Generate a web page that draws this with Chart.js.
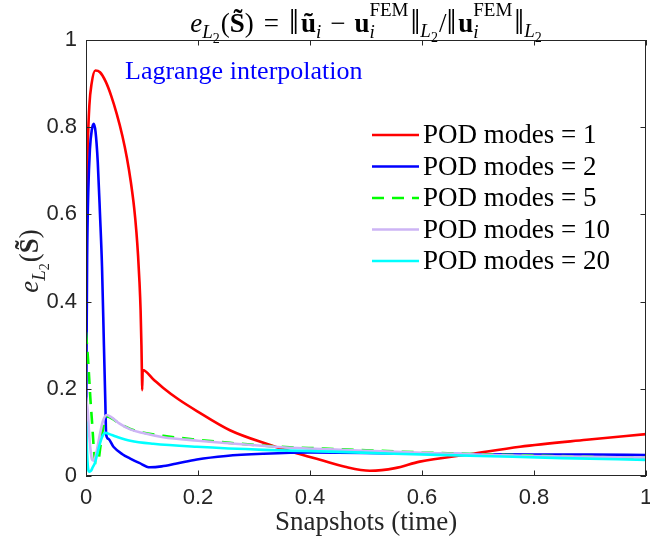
<!DOCTYPE html>
<html>
<head>
<meta charset="utf-8">
<script src="https://cdn.jsdelivr.net/npm/chart.js@4.4.1/dist/chart.umd.min.js"></script>
<style>
  html, body { margin: 0; padding: 0; background: #ffffff; }
  canvas { display: block; }
</style>
</head>
<body>
<canvas id="c" width="650" height="545"></canvas>
<script>
// ---------- data ----------
const seriesLabels = ['POD modes = 1', 'POD modes = 2', 'POD modes = 5', 'POD modes = 10', 'POD modes = 20'];
const xTicks = [0, 0.2, 0.4, 0.6, 0.8, 1];
const yTicks = [0, 0.2, 0.4, 0.6, 0.8, 1];

const xMode1 = [0, 0.001, 0.003, 0.006, 0.010, 0.0166, 0.025, 0.035, 0.045, 0.055, 0.065, 0.073, 0.080, 0.086, 0.090, 0.093, 0.0955, 0.0975, 0.0990, 0.0998, 0.1003, 0.1012, 0.120, 0.138, 0.165, 0.198, 0.257, 0.329, 0.376, 0.418, 0.4625, 0.507, 0.552, 0.596, 0.686, 0.775, 0.894, 1.0];
const yMode1 = [0.30, 0.60, 0.75, 0.85, 0.90, 0.930, 0.926, 0.905, 0.872, 0.830, 0.780, 0.730, 0.675, 0.615, 0.560, 0.505, 0.445, 0.380, 0.300, 0.240, 0.197, 0.243, 0.222, 0.202, 0.176, 0.149, 0.105, 0.071, 0.052, 0.037, 0.021, 0.012, 0.018, 0.033, 0.050, 0.067, 0.083, 0.096];

const xMode2 = [0, 0.001, 0.002, 0.004, 0.007, 0.0105, 0.0137, 0.017, 0.021, 0.025, 0.0286, 0.032, 0.0345, 0.036, 0.040, 0.049, 0.065, 0.079, 0.095, 0.114, 0.135, 0.160, 0.198, 0.250, 0.317, 0.400, 0.500, 0.600, 0.700, 0.800, 0.900, 1.0];
const yMode2 = [0.02, 0.30, 0.50, 0.65, 0.75, 0.795, 0.808, 0.790, 0.720, 0.600, 0.480, 0.300, 0.170, 0.095, 0.085, 0.067, 0.050, 0.040, 0.030, 0.020, 0.022, 0.028, 0.038, 0.046, 0.051, 0.054, 0.053, 0.051, 0.050, 0.049, 0.049, 0.048];

const xMode5 = [0, 0.004, 0.008, 0.011, 0.0137, 0.017, 0.021, 0.026, 0.032, 0.039, 0.045, 0.060, 0.079, 0.100, 0.138, 0.200, 0.257, 0.346, 0.424, 0.500, 0.600, 0.700, 0.800, 0.900, 1.0];
const yMode5 = [0.33, 0.26, 0.174, 0.120, 0.067, 0.030, 0.030, 0.070, 0.120, 0.136, 0.133, 0.120, 0.108, 0.100, 0.092, 0.083, 0.076, 0.067, 0.063, 0.059, 0.054, 0.050, 0.047, 0.044, 0.041];

const xMode10 = [0, 0.003, 0.006, 0.009, 0.011, 0.014, 0.018, 0.024, 0.030, 0.037, 0.045, 0.060, 0.079, 0.100, 0.138, 0.200, 0.257, 0.350, 0.436, 0.500, 0.600, 0.700, 0.800, 0.900, 1.0];
const yMode10 = [0.18, 0.15, 0.09, 0.05, 0.037, 0.035, 0.050, 0.090, 0.125, 0.140, 0.135, 0.120, 0.107, 0.099, 0.089, 0.081, 0.075, 0.066, 0.061, 0.058, 0.053, 0.049, 0.046, 0.044, 0.042];

const xMode20 = [0, 0.002, 0.004, 0.006, 0.009, 0.012, 0.016, 0.020, 0.025, 0.030, 0.035, 0.042, 0.055, 0.079, 0.120, 0.198, 0.317, 0.436, 0.550, 0.704, 0.850, 1.0];
const yMode20 = [0.125, 0.05, 0.015, 0.010, 0.012, 0.020, 0.030, 0.050, 0.075, 0.093, 0.099, 0.096, 0.090, 0.081, 0.074, 0.067, 0.060, 0.056, 0.051, 0.046, 0.041, 0.037];

const seriesColors = ['#ff0000', '#0000ff', '#00ff00', '#cdb4f5', '#00ffff'];
const seriesDash = [[], [], [12, 8], [], []];

const seriesX = [xMode1, xMode2, xMode5, xMode10, xMode20];
const seriesY = [yMode1, yMode2, yMode5, yMode10, yMode20];

const SERIF = '"Liberation Serif", "DejaVu Serif", serif';
const SANS = '"Liberation Sans", Arial, sans-serif';

// ---------- rich text helper (for math-like labels) ----------
function partFont(p) { return (p.style || '') + ' ' + p.size + 'px ' + SERIF; }
function layoutRich(ctx, parts) {
  let x = 0, lastStart = 0, lastEnd = 0;
  const items = [];
  for (const p of parts) {
    ctx.font = partFont(p);
    const w = ctx.measureText(p.t).width;
    const start = p.stack ? lastStart : x + (p.gap || 0);
    items.push({ p, start });
    const end = start + w + (p.after || 0);
    x = p.stack ? Math.max(lastEnd, end) : end;
    lastStart = start; lastEnd = x;
  }
  return { items, width: x };
}
function drawRich(ctx, parts, x0, y0, color) {
  const L = layoutRich(ctx, parts);
  ctx.fillStyle = color;
  ctx.textBaseline = 'alphabetic';
  ctx.textAlign = 'left';
  const left = x0 - L.width / 2;
  for (const it of L.items) {
    ctx.font = partFont(it.p);
    ctx.fillText(it.p.t, left + it.start, y0 + (it.p.dy || 0));
  }
}

function titleParts(B) {
  const s = Math.round(B * 0.7), ss = Math.round(B * 0.52), bar = Math.round(B * 1.3);
  const sub = Math.round(B * 0.22), subsub = Math.round(B * 0.36), sup = -Math.round(B * 0.58);
  const open = { t: '\u2016', size: bar, dy: 2, after: 2 };
  const close = { t: '\u2016', size: bar, dy: 2, gap: 2 };
  const L2 = [{ t: 'L', size: s, style: 'italic', dy: sub - 1 }, { t: '2', size: ss, dy: subsub }];
  const fem = { t: 'FEM', size: s, dy: sup, stack: true };
  return [
    { t: 'e', size: B, style: 'italic' },
    { t: 'L', size: s, style: 'italic', dy: sub }, { t: '2', size: ss, dy: subsub + 1 },
    { t: '(', size: B, gap: 1 }, { t: 'S\u0303', size: B, style: 'bold' }, { t: ')', size: B },
    { t: '=', size: B, gap: 10, after: 10 },
    open, { t: '\u0169', size: B, style: 'bold' }, { t: 'i', size: s, style: 'italic', dy: sub },
    { t: '\u2212', size: B, gap: 9, after: 9 },
    { t: 'u', size: B, style: 'bold' }, { t: 'i', size: s, style: 'italic', dy: sub }, fem,
    close, ...L2,
    { t: '/', size: B, gap: 1 },
    open, { t: 'u', size: B, style: 'bold' }, { t: 'i', size: s, style: 'italic', dy: sub }, fem,
    close, ...L2
  ];
}
function ylabelParts(B) {
  const s = Math.round(B * 0.7), ss = Math.round(B * 0.52);
  return [
    { t: 'e', size: B, style: 'italic' },
    { t: 'L', size: s, style: 'italic', dy: Math.round(B * 0.25) }, { t: '2', size: ss, dy: Math.round(B * 0.4) },
    { t: '(', size: B, gap: 1 }, { t: 'S\u0303', size: B, style: 'bold' }, { t: ')', size: B }
  ];
}

// ---------- decorations plugin: box, inward ticks, legend, annotation, title, y label ----------
const decor = {
  id: 'decor',
  afterDraw(chart) {
    const ctx = chart.ctx;
    const a = chart.chartArea;
    const xs = chart.scales.x, ys = chart.scales.y;
    ctx.save();
    // box
    ctx.strokeStyle = '#262626';
    ctx.lineWidth = 1;
    ctx.strokeRect(a.left + 0.5, a.top + 0.5, a.right - a.left - 1, a.bottom - a.top - 1);
    // inward ticks
    const tl = 5.5;
    ctx.beginPath();
    for (const v of xTicks) {
      const px = Math.round(xs.getPixelForValue(v)) + 0.5;
      ctx.moveTo(px, a.bottom); ctx.lineTo(px, a.bottom - tl);
      ctx.moveTo(px, a.top); ctx.lineTo(px, a.top + tl);
    }
    for (const v of yTicks) {
      const py = Math.round(ys.getPixelForValue(v)) + 0.5;
      ctx.moveTo(a.left, py); ctx.lineTo(a.left + tl, py);
      ctx.moveTo(a.right, py); ctx.lineTo(a.right - tl, py);
    }
    ctx.stroke();

    // legend (inside the axes, top right)
    const ds = chart.data.datasets;
    ctx.font = '27px ' + SERIF;
    ctx.textBaseline = 'middle';
    ctx.textAlign = 'left';
    for (let i = 0; i < ds.length; i++) {
      const y = 135 + i * 31.5;
      ctx.strokeStyle = ds[i].borderColor;
      ctx.lineWidth = ds[i].borderWidth;
      ctx.setLineDash(ds[i].borderDash || []);
      ctx.beginPath();
      ctx.moveTo(372, y); ctx.lineTo(419, y);
      ctx.stroke();
      ctx.setLineDash([]);
      ctx.fillStyle = '#000000';
      ctx.fillText(ds[i].label, 423, y + 1);
    }

    // annotation
    ctx.font = '26px ' + SERIF;
    ctx.fillStyle = '#0000ff';
    ctx.textBaseline = 'alphabetic';
    ctx.fillText('Lagrange interpolation', 125, 79);

    // title
    drawRich(ctx, titleParts(27), (a.left + a.right) / 2, 32, '#000000');

    // y label (rotated)
    ctx.save();
    ctx.translate(38, 261);
    ctx.rotate(-Math.PI / 2);
    drawRich(ctx, ylabelParts(27), 0, 0, '#262626');
    ctx.restore();

    ctx.restore();
  }
};

const datasets = seriesLabels.map((lab, i) => ({
  label: lab,
  data: seriesX[i].map((x, k) => ({ x: x, y: seriesY[i][k] })),
  borderColor: seriesColors[i],
  backgroundColor: seriesColors[i],
  borderWidth: 2.6,
  borderDash: seriesDash[i],
  pointRadius: 0,
  fill: false,
  cubicInterpolationMode: 'monotone',
  order: seriesLabels.length - i
}));

new Chart(document.getElementById('c'), {
  type: 'line',
  data: { datasets: datasets },
  options: {
    responsive: false,
    animation: false,
    events: [],
    layout: { padding: { top: 40, right: 4, left: 0, bottom: 0 } },
    plugins: {
      legend: { display: false },
      title: { display: false },
      tooltip: { enabled: false }
    },
    scales: {
      x: {
        type: 'linear', min: 0, max: 1,
        afterBuildTicks: s => { s.ticks = xTicks.map(v => ({ value: v })); },
        afterFit: s => { s.height = 69; s.paddingLeft = 0; s.paddingRight = 0; },
        grid: { display: false, drawTicks: false },
        border: { display: false },
        ticks: {
          color: '#262626', padding: 9, maxRotation: 0, autoSkip: false,
          font: { family: SANS, size: 22 },
          callback: v => String(+v.toFixed(1))
        },
        title: {
          display: true, text: 'Snapshots (time)', color: '#262626',
          font: { family: SERIF, size: 27 }, padding: { top: 0, bottom: 6 }
        }
      },
      y: {
        type: 'linear', min: 0, max: 1,
        afterBuildTicks: s => { s.ticks = yTicks.map(v => ({ value: v })); },
        afterFit: s => { s.width = 86; s.paddingTop = 0; s.paddingBottom = 0; },
        grid: { display: false, drawTicks: false },
        border: { display: false },
        ticks: {
          color: '#262626', padding: 9, autoSkip: false,
          font: { family: SANS, size: 22 },
          callback: v => String(+v.toFixed(1))
        }
      }
    }
  },
  plugins: [decor]
});
</script>
</body>
</html>
